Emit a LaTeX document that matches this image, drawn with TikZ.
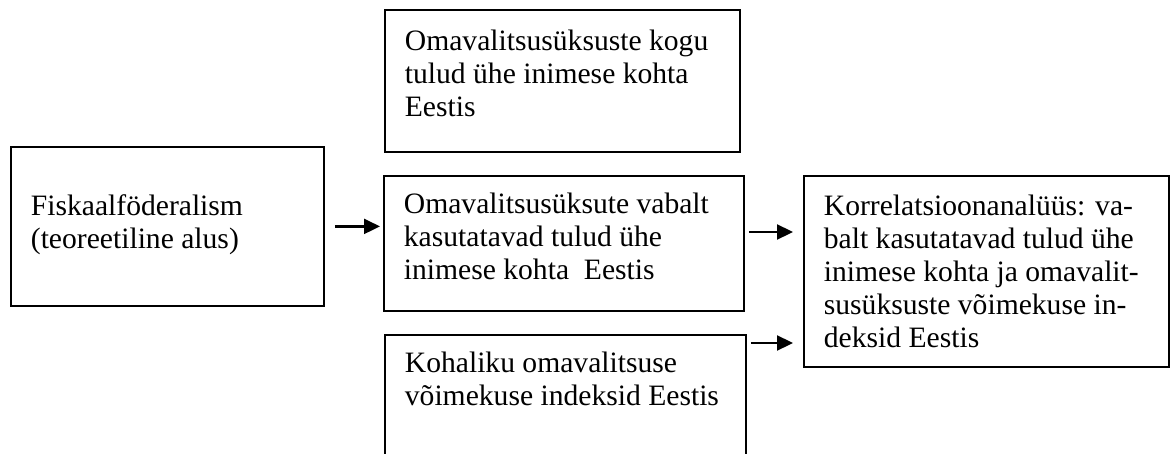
\documentclass[tikz,border=0pt]{standalone}
\usepackage{fontspec}
\setmainfont{Liberation Serif}
\usepackage{tikz}
\usetikzlibrary{arrows.meta, positioning}

\newcommand{\boxtxt}[4]{\parbox[t][#2][t]{#1}{\raggedright\rule{0pt}{#3}#4}}

\begin{document}
\begin{tikzpicture}[
    x=0.5pt, y=-0.5pt,
    box/.style={rectangle, draw=black, line width=0.9pt, anchor=north west, inner xsep=10pt, inner ysep=0pt, font=\fontsize{14.8pt}{16.5pt}\selectfont},
    arrow/.style={-{Triangle[length=8pt, width=7.5pt]}, line width=1.1pt, black}
]
\path[use as bounding box, clip] (0,0) rectangle (1170,454);

% Theory (left)
\node[box] (fisk) at (10,146) {\boxtxt{136.5pt}{79.5pt}{34.25pt}{Fiskaalföderalism\\(teoreetiline alus)}};

% Revenues and indices (middle)
\node[box] (kogu) at (384,9) {\boxtxt{157.5pt}{71pt}{20.25pt}{Omavalitsusüksuste kogu\\tulud ühe inimese kohta\\Eestis}};
\node[box] (vaba) at (383,175) {\boxtxt{160pt}{67.5pt}{18.75pt}{Omavalitsusüksute vabalt\\kasutatavad tulud ühe\\inimese kohta\ \ Eestis}};
\node[box] (voime) at (384,334) {\boxtxt{160.5pt}{75pt}{18.75pt}{Kohaliku omavalitsuse\\võimekuse indeksid Eestis}};

% Analysis (right)
\node[box] (korr) at (803,175) {\boxtxt{162.5pt}{95.5pt}{19.75pt}{Korrelatsioonanalüüs: va-\\balt kasutatavad tulud ühe\\inimese kohta ja omavalit-\\susüksuste võimekuse in-\\deksid Eestis}};

% Arrows
\draw[arrow, shorten <=5pt, shorten >=1.5pt] (fisk.east) -- (fisk.east -| vaba.west);
\coordinate (a2) at ([yshift=-28.5pt]vaba.north east);
\coordinate (a3) at ([yshift=-4.5pt]voime.north east);
\draw[arrow, shorten <=2pt, shorten >=5pt] (a2) -- (a2 -| korr.west);
\draw[arrow, shorten <=2pt, shorten >=5pt] (a3) -- (a3 -| korr.west);

\end{tikzpicture}
\end{document}
